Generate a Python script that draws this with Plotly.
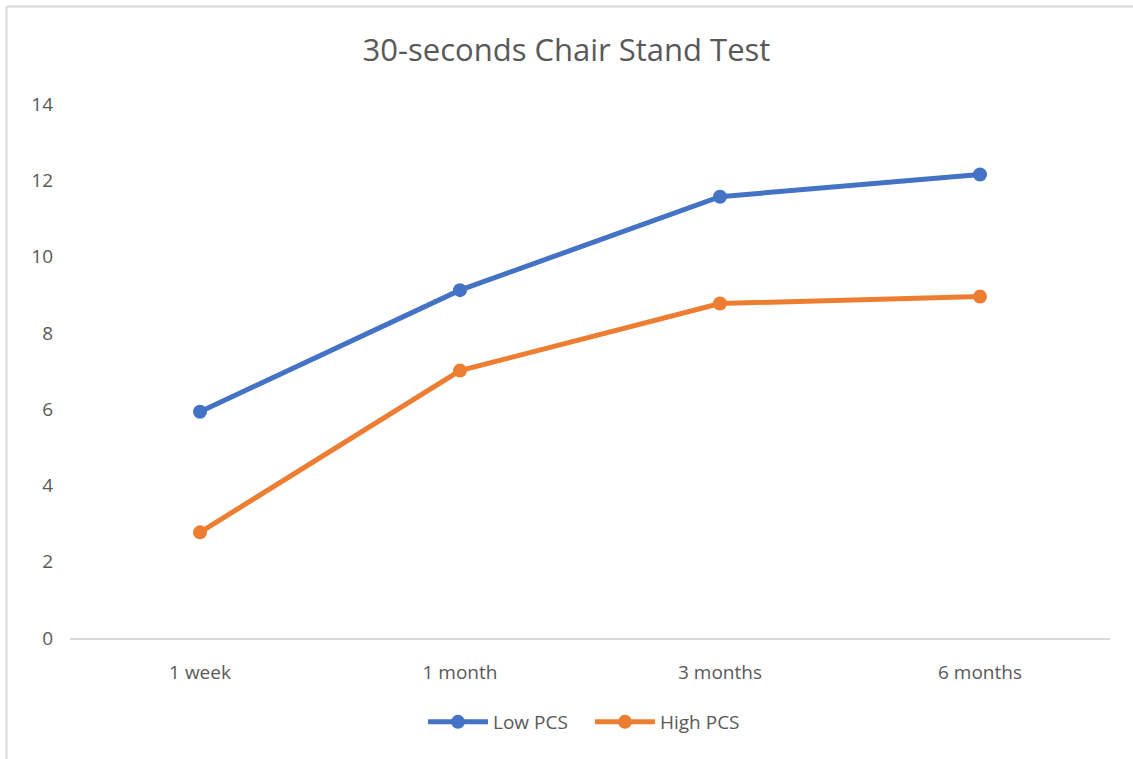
import plotly.graph_objects as go

categories = ["1 week", "1 month", "3 months", "6 months"]
low_pcs = [5.93, 9.12, 11.57, 12.15]
high_pcs = [2.77, 7.01, 8.77, 8.95]
y_ticks = [0, 2, 4, 6, 8, 10, 12, 14]

W, H = 1133, 759
L, R, T, B = 70, 23, 104, 121
pw, ph = W - L - R, H - T - B

def px_x(p):
    return (p - L) / pw

def px_y(p):
    return (H - B - p) / ph

fig = go.Figure()
fig.add_trace(go.Scatter(x=categories, y=low_pcs, name="Low PCS", mode="lines+markers",
                         line=dict(color="#4472C4", width=5),
                         marker=dict(color="#4472C4", size=14)))
fig.add_trace(go.Scatter(x=categories, y=high_pcs, name="High PCS", mode="lines+markers",
                         line=dict(color="#ED7D31", width=5),
                         marker=dict(color="#ED7D31", size=14)))

fig.update_layout(
    width=W, height=H,
    margin=dict(l=L, r=R, t=T, b=B),
    paper_bgcolor="white", plot_bgcolor="white",
    font=dict(family="Open Sans, Noto Sans, sans-serif", color="#595959", size=19),
    title=dict(text="30-seconds Chair Stand Test", x=0.5, xanchor="center",
               y=1 - 50 / H, yanchor="middle",
               font=dict(size=31, color="#595959", family="Open Sans, Noto Sans, sans-serif")),
    xaxis=dict(type="category", range=[-0.5, 3.5], showgrid=False, zeroline=False,
               showline=True, linecolor="#D9D9D9", linewidth=1.5,
               ticks="", ticklabelstandoff=16, tickfont=dict(size=19, color="#595959")),
    yaxis=dict(range=[0, 14], tickvals=y_ticks, showgrid=False, zeroline=False,
               showline=False, ticks="", ticklabelstandoff=16,
               tickfont=dict(size=19, color="#595959")),
    legend=dict(orientation="h", x=0.5, xanchor="center", y=px_y(722), yanchor="middle",
                font=dict(size=19, color="#595959"), itemwidth=60, entrywidth=92,
                entrywidthmode="pixels", traceorder="normal"),
    showlegend=True,
)

# chart border (top and left edges visible)
fig.add_shape(type="line", xref="paper", yref="paper",
              x0=px_x(6.5), x1=px_x(W + 5), y0=px_y(6.5), y1=px_y(6.5),
              line=dict(color="#D9D9D9", width=2))
fig.add_shape(type="line", xref="paper", yref="paper",
              x0=px_x(6.5), x1=px_x(6.5), y0=px_y(6.5), y1=px_y(H + 5),
              line=dict(color="#D9D9D9", width=2))

fig.write_html("out.html", config={"displayModeBar": False},
               post_script="document.body.style.margin='0';document.body.style.overflow='hidden';")
